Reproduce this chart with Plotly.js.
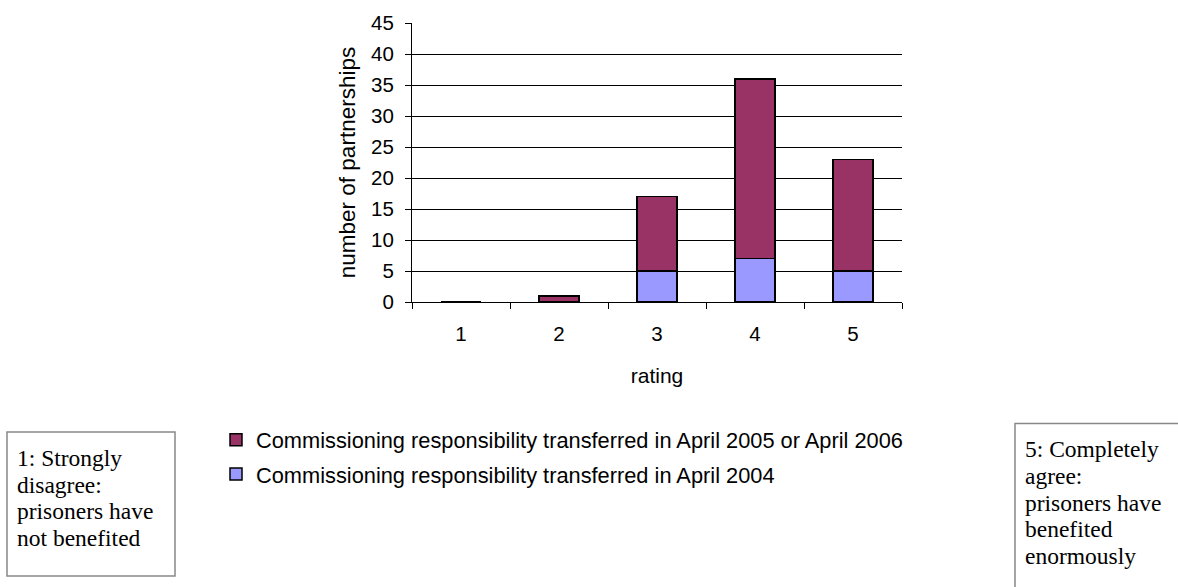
<!DOCTYPE html>
<html>
<head>
<meta charset="utf-8">
<script src="https://cdn.plot.ly/plotly-3.0.1.min.js"></script>
<style>
  html, body { margin: 0; padding: 0; background: #fff; }
  #chart { width: 1178px; height: 587px; }
</style>
</head>
<body>
<div id="chart"></div>
<script>
// Rating scale (1 = strongly disagree ... 5 = completely agree)
const ratings = ['1', '2', '3', '4', '5'];

// Number of partnerships by date commissioning responsibility transferred
const transferred2004 = [0, 0, 5, 7, 5];
const transferred2005or2006 = [0, 1, 12, 29, 18];

const seriesNames = [
  'Commissioning responsibility transferred in April 2004',
  'Commissioning responsibility transferred in April 2005 or April 2006'
];

const yTicks = [0, 5, 10, 15, 20, 25, 30, 35, 40, 45];

const leftNote = ['1: Strongly', 'disagree:', 'prisoners have', 'not benefited'];
const rightNote = ['5: Completely', 'agree:', 'prisoners have', 'benefited', 'enormously'];

const W = 1178, H = 587;
const M = { l: 412, r: 276, t: 23, b: 285 };
const PW = W - M.l - M.r, PH = H - M.t - M.b;
const px = x => (x - M.l) / PW;
const py = y => (H - M.b - y) / PH;

const sans = 'Liberation Sans, Arial, sans-serif';
const serif = 'Liberation Serif, Times New Roman, serif';

const traces = [
  {
    type: 'bar', x: ratings, y: transferred2004, name: seriesNames[0],
    legendgroup: 'a', legendrank: 2,
    marker: { color: '#9999FF', line: { color: '#000', width: 1.5 } }
  },
  {
    type: 'bar', x: ratings, y: transferred2005or2006, name: seriesNames[1],
    legendgroup: 'b', legendrank: 1,
    marker: { color: '#993366', line: { color: '#000', width: 1.5 } }
  }
];

// Explanatory notes for both ends of the scale
function noteLines(lines, x, yFirst, step) {
  return lines.map((t, i) => ({
    xref: 'paper', yref: 'paper', x: px(x), y: py(yFirst + i * step),
    xanchor: 'left', yanchor: 'middle', text: t, showarrow: false,
    font: { family: serif, size: 23.5, color: '#000' }
  }));
}

const annotations = [
  ...noteLines(leftNote, 15, 458, 26.5),
  ...noteLines(rightNote, 1023, 449, 26.8)
];

const shapes = [
  { type: 'rect', xref: 'paper', yref: 'paper', x0: px(7), x1: px(175), y0: py(432), y1: py(576),
    line: { color: '#888', width: 1.5 }, fillcolor: 'rgba(0,0,0,0)' },
  { type: 'rect', xref: 'paper', yref: 'paper', x0: px(1015), x1: px(1190), y0: py(423.5), y1: py(600),
    line: { color: '#888', width: 1.5 }, fillcolor: 'rgba(0,0,0,0)' }
];

const layout = {
  width: W, height: H,
  margin: M,
  paper_bgcolor: '#fff', plot_bgcolor: '#fff',
  barmode: 'stack', bargap: 0.59,
  showlegend: true,
  font: { family: sans, size: 20, color: '#000' },
  xaxis: {
    type: 'category', tickson: 'boundaries',
    ticks: 'outside', ticklen: 6, tickcolor: '#000', tickwidth: 1,
    showline: true, linecolor: '#000', linewidth: 1,
    showgrid: false, zeroline: false,
    ticklabelstandoff: 13,
    tickfont: { family: sans, size: 20.5, color: '#000' },
    title: { text: 'rating', font: { family: sans, size: 21, color: '#000' }, standoff: 24 }
  },
  yaxis: {
    range: [0, 45], tickvals: yTicks,
    ticks: 'outside', ticklen: 6, tickcolor: '#000', tickwidth: 1,
    showline: true, linecolor: '#000', linewidth: 1,
    showgrid: true, gridcolor: '#000', gridwidth: 1, zeroline: false,
    ticklabelstandoff: 7,
    tickfont: { family: sans, size: 20.5, color: '#000' },
    title: { text: 'number of partnerships', font: { family: sans, size: 22.5, color: '#000' }, standoff: 9 }
  },
  legend: {
    x: px(216), y: py(419), xanchor: 'left', yanchor: 'top',
    traceorder: 'grouped', tracegroupgap: 3,
    bgcolor: 'rgba(0,0,0,0)', borderwidth: 0,
    font: { family: sans, size: 21.8, color: '#000' }
  },
  annotations: annotations,
  shapes: shapes
};

Plotly.newPlot('chart', traces, layout, { staticPlot: true, displayModeBar: false });
</script>
</body>
</html>
